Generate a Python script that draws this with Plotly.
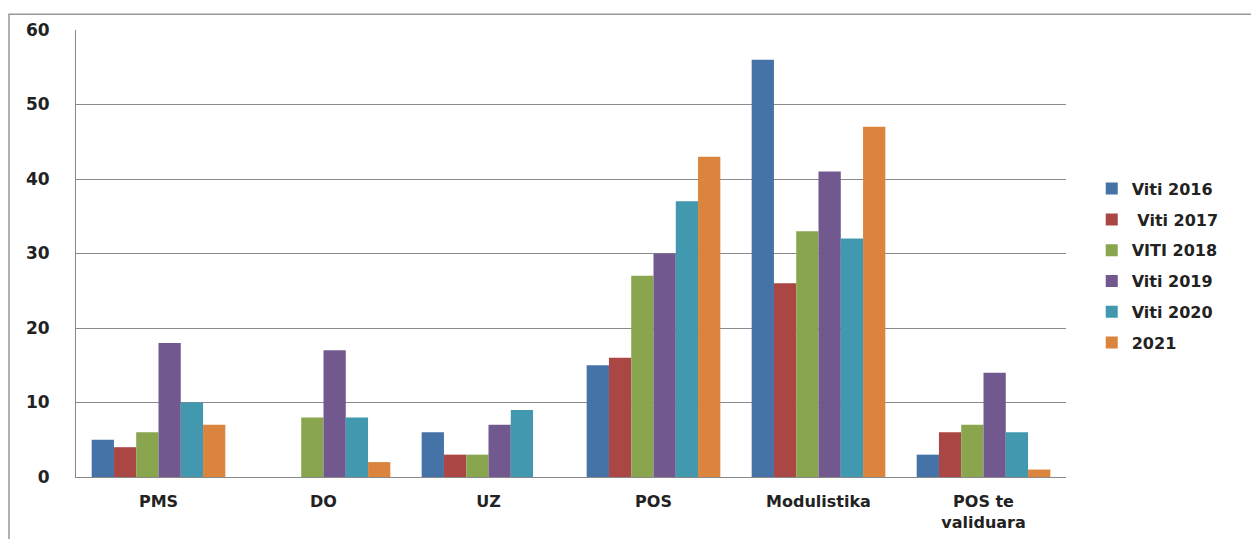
import plotly.graph_objects as go

categories = ["PMS", "DO", "UZ", "POS", "Modulistika", "POS te<br>validuara"]
series_names = ["Viti 2016", " Viti 2017", "VITI 2018", "Viti 2019", "Viti 2020", "2021"]
v2016 = [5, 0, 6, 15, 56, 3]
v2017 = [4, 0, 3, 16, 26, 6]
v2018 = [6, 8, 3, 27, 33, 7]
v2019 = [18, 17, 7, 30, 41, 14]
v2020 = [10, 8, 9, 37, 32, 6]
v2021 = [7, 2, 0, 43, 47, 1]
colors = ["#4572A7", "#AA4643", "#89A54E", "#71588F", "#4198AF", "#DB843D"]
y_ticks = [0, 10, 20, 30, 40, 50, 60]

fig = go.Figure()
for i, (name, vals, c) in enumerate(zip(series_names, [v2016, v2017, v2018, v2019, v2020, v2021], colors)):
    fig.add_trace(go.Bar(x=categories, y=vals, name=name, legendgroup=f"g{i}",
                         marker=dict(color=c, line=dict(width=0))))

font_fam = "DejaVu Sans, Verdana, sans-serif"
fig.update_layout(
    width=1259, height=539,
    margin=dict(l=68, r=201, t=17, b=70),
    paper_bgcolor="white", plot_bgcolor="white",
    barmode="group", bargap=0.19, bargroupgap=0,
    font=dict(family=font_fam, size=14, color="#222222"),
    legend=dict(x=1.026, y=0.683, xanchor="left", yanchor="top",
                font=dict(size=16, color="#222222", weight="bold"),
                itemwidth=30, traceorder="grouped", tracegroupgap=7),
    xaxis=dict(showgrid=False, showline=True, linecolor="#888888", linewidth=1,
               ticks="", tickfont=dict(size=16, weight="bold", color="#222222"),
               ticklabelstandoff=10, range=[-0.5, 5.5]),
    yaxis=dict(range=[0, 60], tickvals=y_ticks, showgrid=True, gridcolor="#8a8a8a",
               gridwidth=1, showline=True, linecolor="#888888", linewidth=1,
               ticks="", tickfont=dict(size=17, weight="bold", color="#222222"),
               ticklabelstandoff=22, zeroline=False),
    shapes=[dict(type="rect", xref="paper", yref="paper", x0=-0.0677, x1=1.191,
                 y0=-0.3, y1=1.035, line=dict(color="#999999", width=1.5),
                 fillcolor="rgba(0,0,0,0)", layer="below")],
)
fig.write_html("out.html")
